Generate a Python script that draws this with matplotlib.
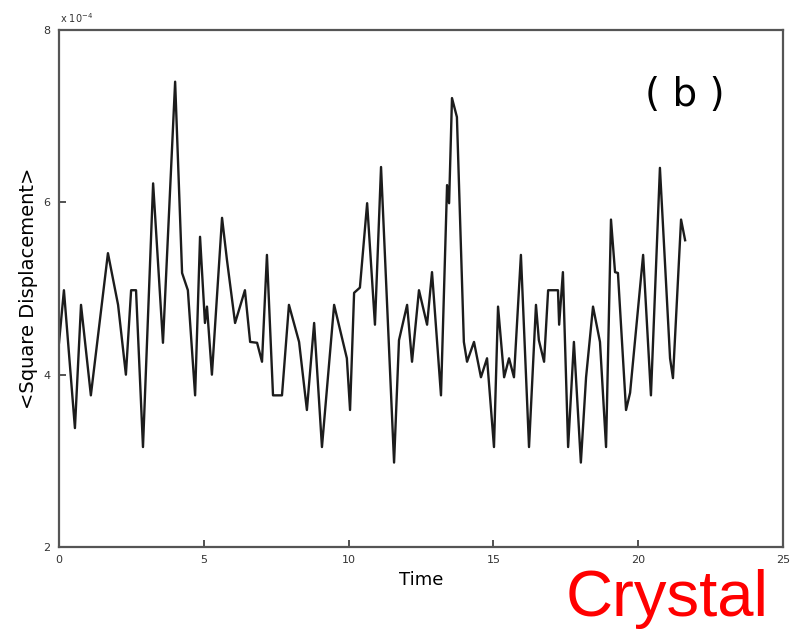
from matplotlib import pyplot as plt

# time values (same units as the x axis)
time = [0.0, 0.17, 0.55, 0.76, 1.10, 1.69, 2.04, 2.31, 2.49, 2.66,
        2.90, 3.25, 3.59, 4.01, 4.25, 4.45, 4.70, 4.87, 5.04, 5.11,
        5.28, 5.63, 5.80, 6.08, 6.25, 6.42, 6.60, 6.84, 7.01, 7.18,
        7.39, 7.70, 7.94, 8.29, 8.56, 8.81, 9.08, 9.50, 9.94, 10.05,
        10.19, 10.39, 10.64, 10.91, 11.12, 11.57, 11.74, 12.02, 12.19, 12.43,
        12.71, 12.88, 13.19, 13.40, 13.47, 13.57, 13.74, 13.98, 14.09, 14.33,
        14.57, 14.78, 15.02, 15.16, 15.37, 15.54, 15.71, 15.95, 16.23, 16.47,
        16.57, 16.75, 16.89, 17.23, 17.27, 17.40, 17.58, 17.78, 18.02, 18.20,
        18.44, 18.68, 18.89, 19.06, 19.20, 19.30, 19.58, 19.72, 20.17, 20.44,
        20.75, 21.10, 21.20, 21.48, 21.62]

# mean square displacement, in units of 1e-4
msd = [4.37, 4.98, 3.38, 4.81, 3.76, 5.41, 4.81, 4.00, 4.98, 4.98,
       3.16, 6.22, 4.37, 7.40, 5.18, 4.98, 3.76, 5.60, 4.60, 4.79,
       4.00, 5.82, 5.33, 4.60, 4.79, 4.98, 4.38, 4.37, 4.15, 5.39,
       3.76, 3.76, 4.81, 4.38, 3.59, 4.60, 3.16, 4.81, 4.19, 3.59,
       4.95, 5.01, 5.99, 4.58, 6.41, 2.98, 4.40, 4.81, 4.15, 4.98,
       4.58, 5.19, 3.76, 6.20, 5.99, 7.21, 6.99, 4.38, 4.15, 4.38,
       3.97, 4.19, 3.16, 4.79, 3.97, 4.19, 3.97, 5.39, 3.16, 4.81,
       4.40, 4.15, 4.98, 4.98, 4.58, 5.19, 3.16, 4.38, 2.98, 3.97,
       4.79, 4.38, 3.16, 5.80, 5.19, 5.18, 3.59, 3.79, 5.39, 3.76,
       6.40, 4.19, 3.96, 5.80, 5.56]

x_ticks = [0, 5, 10, 15, 20, 25]
y_ticks = [2, 4, 6, 8]


def msd_crystal():
    fig = plt.figure(figsize=(7.92, 6.3), dpi=100)
    ax = fig.add_axes([59 / 792, 83 / 630, 724 / 792, 517 / 630])

    ax.plot(time, msd, color='#1c1c1c', lw=1.7)
    ax.set_xlim(0, 25)
    ax.set_ylim(2, 8)
    ax.set_xticks(x_ticks)
    ax.set_yticks(y_ticks)
    ax.tick_params(direction='in', length=5, width=1.2, labelsize=8,
                   pad=6, colors='#333333')
    for spine in ax.spines.values():
        spine.set_color('#555555')
        spine.set_linewidth(1.6)

    ax.set_xlabel('Time', fontsize=13, labelpad=4)
    ax.set_ylabel('<Square Displacement>', fontsize=14, labelpad=4)
    ax.text(0.865, 0.874, '( b )', transform=ax.transAxes, fontsize=28,
            ha='center', va='center')
    fig.text(60 / 792, 1 - 18 / 630, r'x 10$^{-4}$', fontsize=7,
             va='center', color='#333333')
    fig.text(566 / 792, 14 / 630, 'Crystal', fontsize=47, color='#ff0000',
             family='Liberation Sans', ha='left', va='baseline')

    fig.savefig('out.png', dpi=100)


if __name__ == '__main__':
    msd_crystal()
